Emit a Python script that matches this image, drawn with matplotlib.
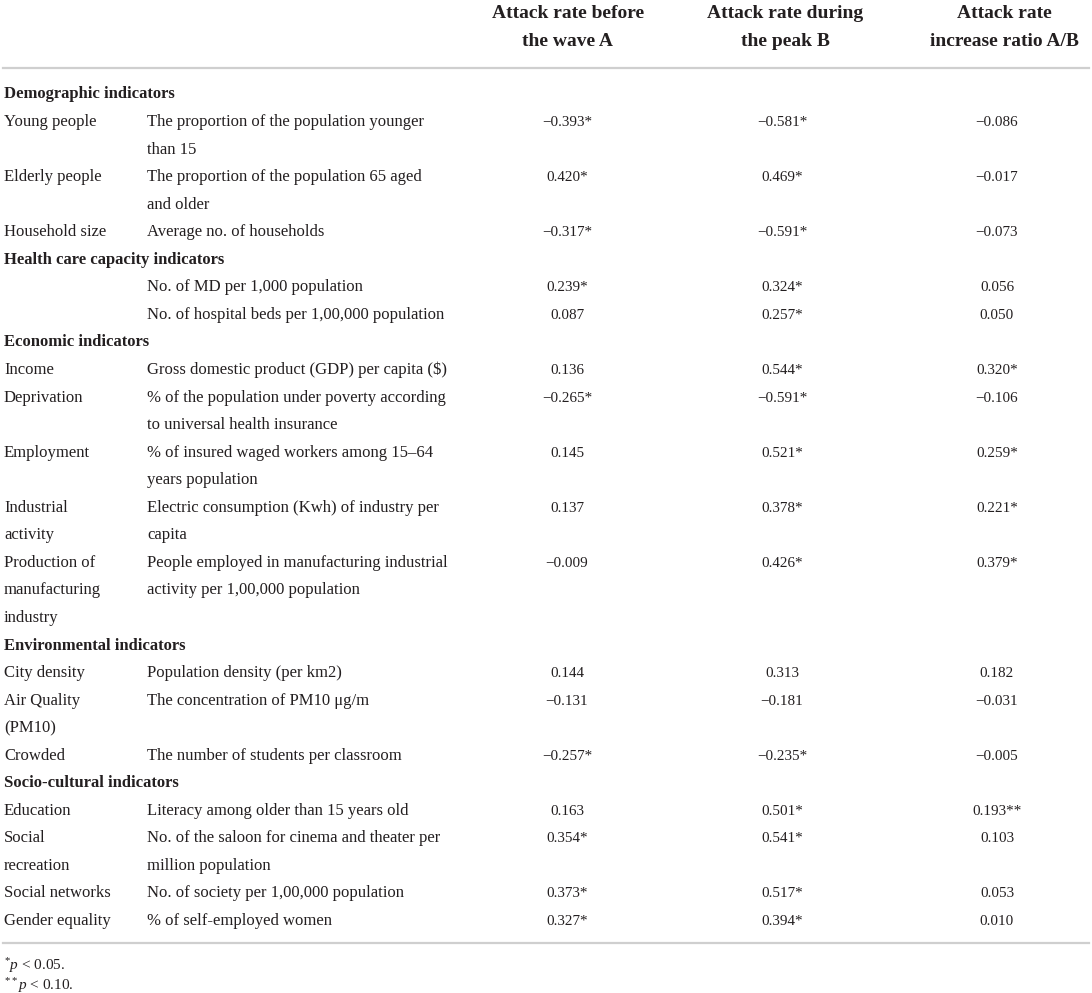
import matplotlib.pyplot as plt

plt.rcParams['font.family'] = ['Liberation Serif', 'DejaVu Serif']
plt.rcParams['mathtext.fontset'] = 'custom'
plt.rcParams['mathtext.rm'] = 'Liberation Serif'
plt.rcParams['mathtext.it'] = 'Liberation Serif:italic'

headers = [("Attack rate before", "the wave A"),
           ("Attack rate during", "the peak B"),
           ("Attack rate", "increase ratio A/B")]

sections = [
    "Demographic indicators",
    "Health care capacity indicators",
    "Economic indicators",
    "Environmental indicators",
    "Socio-cultural indicators",
]

# section index, indicator, description, A, B, A/B
rows = [
    (0, "Young people", "The proportion of the population younger\nthan 15", "\u22120.393*", "\u22120.581*", "\u22120.086"),
    (0, "Elderly people", "The proportion of the population 65 aged\nand older", "0.420*", "0.469*", "\u22120.017"),
    (0, "Household size", "Average no. of households", "\u22120.317*", "\u22120.591*", "\u22120.073"),
    (1, "", "No. of MD per 1,000 population", "0.239*", "0.324*", "0.056"),
    (1, "", "No. of hospital beds per 1,00,000 population", "0.087", "0.257*", "0.050"),
    (2, "Income", "Gross domestic product (GDP) per capita ($)", "0.136", "0.544*", "0.320*"),
    (2, "Deprivation", "% of the population under poverty according\nto universal health insurance", "\u22120.265*", "\u22120.591*", "\u22120.106"),
    (2, "Employment", "% of insured waged workers among 15\u201364\nyears population", "0.145", "0.521*", "0.259*"),
    (2, "Industrial\nactivity", "Electric consumption (Kwh) of industry per\ncapita", "0.137", "0.378*", "0.221*"),
    (2, "Production of\nmanufacturing\nindustry", "People employed in manufacturing industrial\nactivity per 1,00,000 population", "\u22120.009", "0.426*", "0.379*"),
    (3, "City density", "Population density (per km2)", "0.144", "0.313", "0.182"),
    (3, "Air Quality\n(PM10)", "The concentration of PM10 \u03bcg/m", "\u22120.131", "\u22120.181", "\u22120.031"),
    (3, "Crowded", "The number of students per classroom", "\u22120.257*", "\u22120.235*", "\u22120.005"),
    (4, "Education", "Literacy among older than 15 years old", "0.163", "0.501*", "0.193**"),
    (4, "Social\nrecreation", "No. of the saloon for cinema and theater per\nmillion population", "0.354*", "0.541*", "0.103"),
    (4, "Social networks", "No. of society per 1,00,000 population", "0.373*", "0.517*", "0.053"),
    (4, "Gender equality", "% of self-employed women", "0.327*", "0.394*", "0.010"),
]

footnotes = [r"$^{*}\mathit{p}$ < 0.05.", r"$^{**}\mathit{p}$ < 0.10."]

W, H = 1092, 993
fig = plt.figure(figsize=(W / 100, H / 100), dpi=100)
ax = fig.add_axes([0, 0, 1, 1])
ax.set_xlim(0, W)
ax.set_ylim(H, 0)
ax.axis('off')

ink = '#231f20'
rule = '#cfcfcf'
col_x = [4, 147]
val_x = [567, 782, 997]
head_x = [568, 785, 1004]
y0 = 98.5
step = 27.55
body = 12
num = 10.9

for x, (h1, h2) in zip(head_x, headers):
    ax.text(x, 18, h1, ha='center', va='baseline', fontsize=14, fontweight='bold', color=ink)
    ax.text(x, 46.5, h2, ha='center', va='baseline', fontsize=14, fontweight='bold', color=ink)

ax.plot([3, 1089], [67.5, 67.5], color=rule, lw=1.6)

line = 0
last_sec = -1
for sec, name, desc, a, b, c in rows:
    if sec != last_sec:
        ax.text(col_x[0], y0 + step * line, sections[sec], fontsize=body, fontweight='bold',
                color=ink, va='baseline')
        line += 1
        last_sec = sec
    y = y0 + step * line
    n_name = name.split("\n")
    n_desc = desc.split("\n")
    for i, t in enumerate(n_name):
        ax.text(col_x[0], y + step * i, t, fontsize=body, color=ink, va='baseline')
    for i, t in enumerate(n_desc):
        ax.text(col_x[1], y + step * i, t, fontsize=body, color=ink, va='baseline')
    for x, v in zip(val_x, (a, b, c)):
        ax.text(x, y, v, fontsize=num, color=ink, ha='center', va='baseline')
    line += max(len(n_name), len(n_desc))

ax.plot([3, 1089], [943, 943], color=rule, lw=1.6)

for i, f in enumerate(footnotes):
    ax.text(4, 970 + 20 * i, f, fontsize=11, color=ink, va='baseline')

fig.savefig("out.png", dpi=100, facecolor='white')
